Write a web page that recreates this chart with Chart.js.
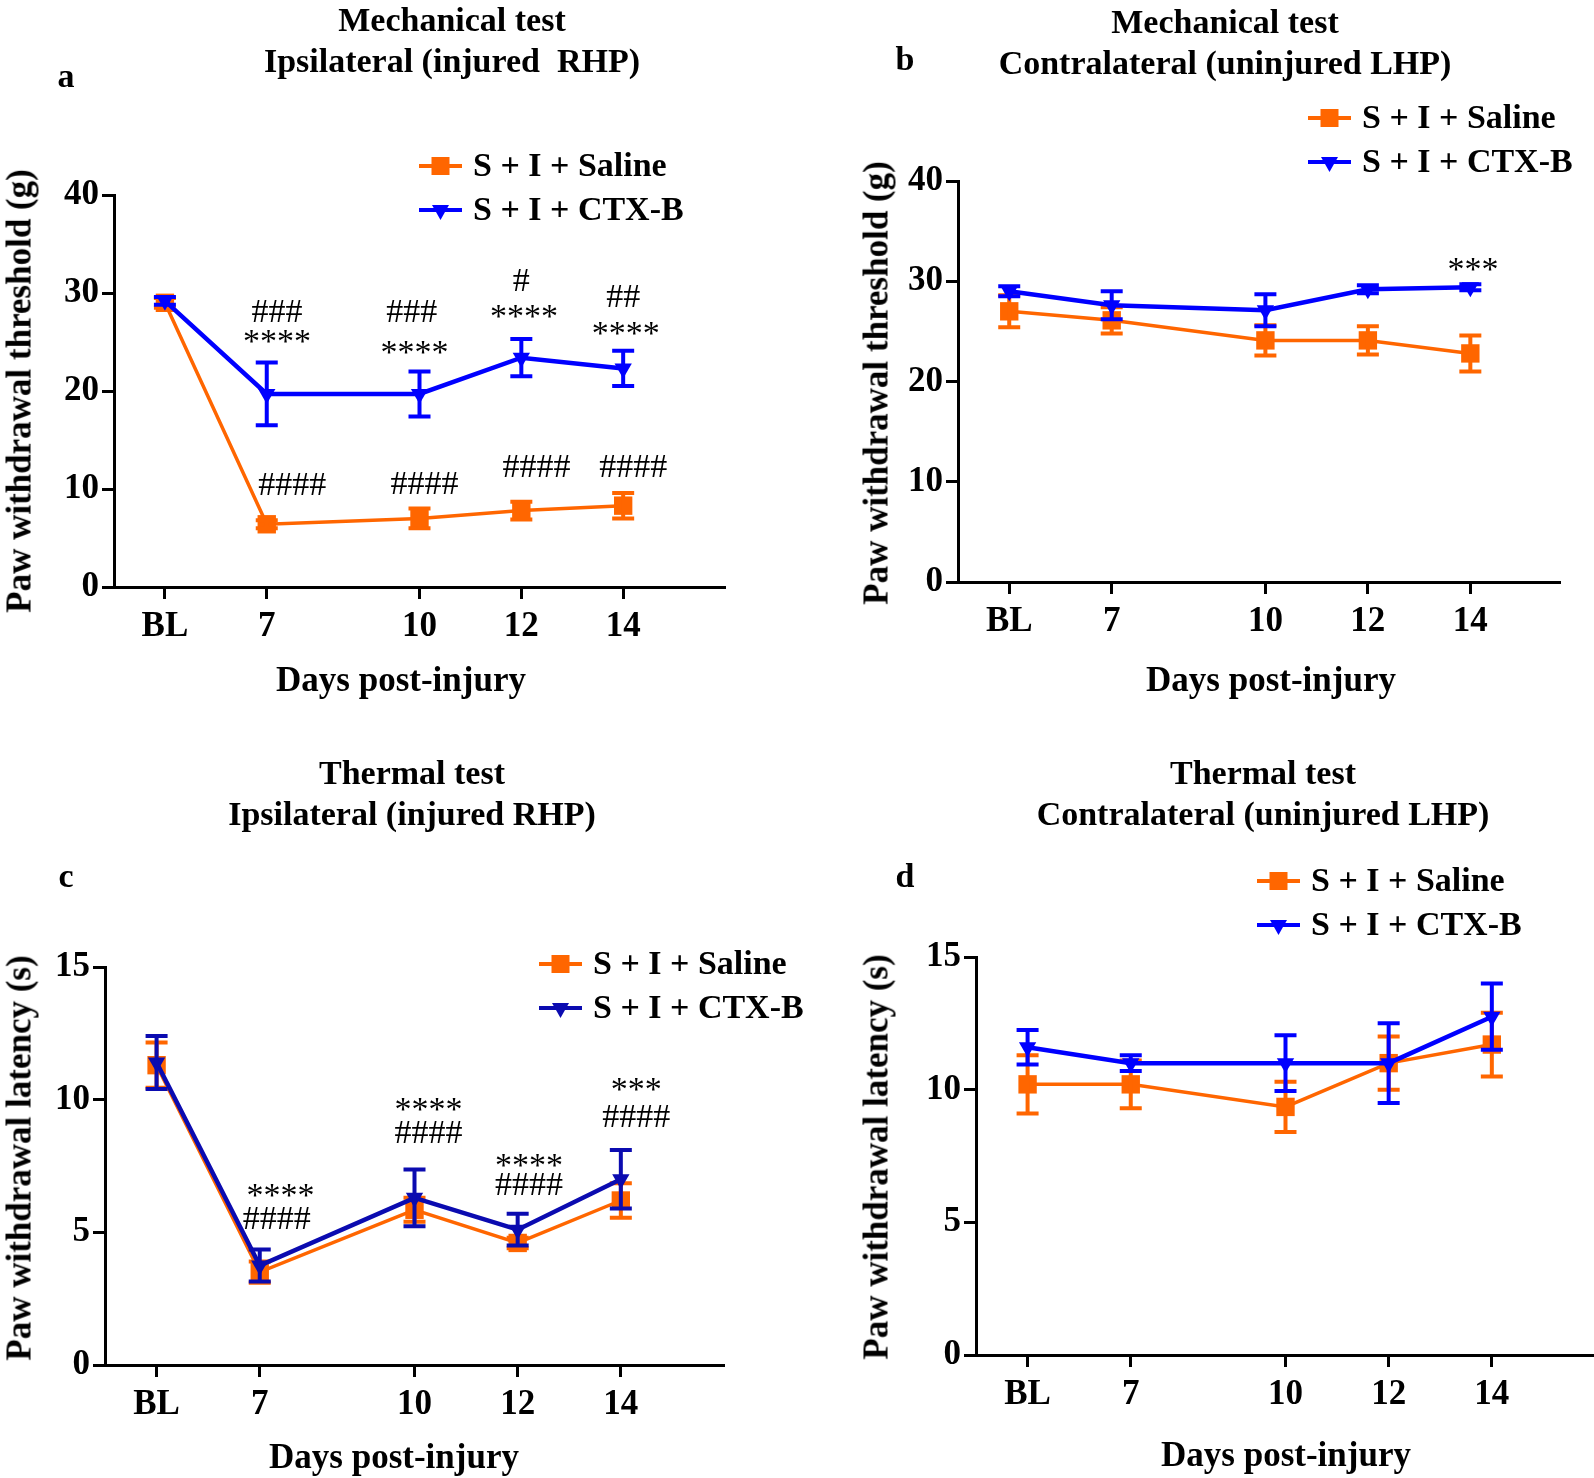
<!DOCTYPE html>
<html>
<head>
<meta charset="utf-8">
<script src="https://cdn.jsdelivr.net/npm/chart.js"></script>
<style>
  html, body { margin: 0; padding: 0; background: #fff; }
  #page { position: relative; width: 1594px; height: 1478px; overflow: hidden;
          font-family: 'Liberation Serif', 'Times New Roman', serif; font-weight: bold; color: #000; }
  #page canvas { position: absolute; }
  .lbl { position: absolute; font-size: 34px; line-height: 1; white-space: pre; transform: translate(-50%, -50%); }
  .ax { font-size: 35px; }
  .rot { transform: translate(-50%, -50%) rotate(-90deg); }
</style>
</head>
<body>
<div id="page">
  <canvas id="chartA" width="797" height="740" style="left:0;top:0"></canvas>
  <canvas id="chartB" width="797" height="740" style="left:797px;top:0"></canvas>
  <canvas id="chartD" width="811" height="738" style="left:797px;top:740px"></canvas>
  <canvas id="chartC" width="830" height="738" style="left:0;top:740px"></canvas>

  <div class="lbl" style="left:452px;top:20px">Mechanical test</div>
  <div class="lbl" style="left:452px;top:61px">Ipsilateral (injured  RHP)</div>
  <div class="lbl" style="left:66px;top:76px">a</div>
  <div class="lbl ax rot" style="left:19px;top:391px">Paw withdrawal threshold (g)</div>
  <div class="lbl ax" style="left:401px;top:679px">Days post-injury</div>

  <div class="lbl" style="left:1225px;top:22px">Mechanical test</div>
  <div class="lbl" style="left:1225px;top:63px">Contralateral (uninjured LHP)</div>
  <div class="lbl" style="left:905px;top:59px">b</div>
  <div class="lbl ax rot" style="left:876px;top:383px">Paw withdrawal threshold (g)</div>
  <div class="lbl ax" style="left:1271px;top:679px">Days post-injury</div>

  <div class="lbl" style="left:412px;top:773px">Thermal test</div>
  <div class="lbl" style="left:412px;top:814px">Ipsilateral (injured RHP)</div>
  <div class="lbl" style="left:66px;top:876px">c</div>
  <div class="lbl ax rot" style="left:19px;top:1158px">Paw withdrawal latency (s)</div>
  <div class="lbl ax" style="left:394px;top:1456px">Days post-injury</div>

  <div class="lbl" style="left:1263px;top:773px">Thermal test</div>
  <div class="lbl" style="left:1263px;top:814px">Contralateral (uninjured LHP)</div>
  <div class="lbl" style="left:905px;top:876px">d</div>
  <div class="lbl ax rot" style="left:876px;top:1157px">Paw withdrawal latency (s)</div>
  <div class="lbl ax" style="left:1286px;top:1454px">Days post-injury</div>
</div>
<script>
// x positions (days) and their tick labels; BL is plotted at day 5
const days = [5, 7, 10, 12, 14];
const dayLabels = ['BL', '7', '10', '12', '14'];
const seriesNames = ['S + I + Saline', 'S + I + CTX-B'];

// a: mechanical, ipsilateral
const salineA = [29.0, 6.4, 7.0, 7.8, 8.3];
const salineAErr = [0.5, 0.4, 1.0, 0.9, 1.3];
const ctxA = [29.2, 19.7, 19.7, 23.4, 22.3];
const ctxAErr = [0.4, 3.2, 2.3, 1.9, 1.8];
const marksA = [
  ['###', 7.2, 28.0], ['****', 7.2, 25.4], ['####', 7.5, 10.3],
  ['###', 9.85, 28.0], ['****', 9.9, 24.3], ['####', 10.1, 10.4],
  ['#', 12.0, 31.1], ['****', 12.05, 28.0], ['####', 12.3, 12.1],
  ['##', 14.0, 29.5], ['****', 14.05, 26.2], ['####', 14.2, 12.1]
];

// b: mechanical, contralateral
const salineB = [27.0, 26.1, 24.1, 24.1, 22.8];
const salineBErr = [1.6, 1.3, 1.5, 1.4, 1.8];
const ctxB = [29.0, 27.6, 27.1, 29.2, 29.4];
const ctxBErr = [0.5, 1.4, 1.6, 0.4, 0.3];
const marksB = [['***', 14.05, 31.5]];

// c: thermal, ipsilateral
const salineC = [11.3, 3.5, 5.85, 4.6, 6.2];
const salineCErr = [0.85, 0.4, 0.45, 0.2, 0.65];
const ctxC = [11.4, 3.75, 6.3, 5.1, 7.0];
const ctxCErr = [1.0, 0.6, 1.07, 0.6, 1.1];
const marksC = [
  ['****', 7.4, 6.5], ['####', 7.33, 5.45],
  ['****', 10.27, 9.75], ['####', 10.27, 8.7],
  ['****', 12.22, 7.65], ['####', 12.22, 6.75],
  ['***', 14.3, 10.5], ['####', 14.3, 9.3]
];

// d: thermal, contralateral
const salineD = [10.2, 10.2, 9.35, 11.0, 11.7];
const salineDErr = [1.1, 0.9, 0.95, 1.0, 1.2];
const ctxD = [11.6, 11.0, 11.0, 11.0, 12.75];
const ctxDErr = [0.65, 0.3, 1.05, 1.5, 1.25];
const marksD = [];

const ORANGE = '#ff6600';
const BLUE = '#0000ff';
const NAVY = '#0b0bb0';
const serif = "'Liberation Serif', 'Times New Roman', serif";

function drawMarker(ctx, style, x, y, color) {
  ctx.fillStyle = color;
  if (style === 'rect') {
    ctx.fillRect(x - 9, y - 9, 18, 18);
  } else {
    ctx.beginPath();
    ctx.moveTo(x - 8.5, y - 5);
    ctx.lineTo(x + 8.5, y - 5);
    ctx.lineTo(x, y + 10);
    ctx.closePath();
    ctx.fill();
  }
}

// vertical SEM bars, drawn right after each dataset
const errorBars = {
  id: 'errorBars',
  afterDatasetDraw(chart, args) {
    const ds = chart.data.datasets[args.index];
    if (!ds.errors) return;
    const ctx = chart.ctx, ys = chart.scales.y;
    ctx.save();
    ctx.strokeStyle = ds.borderColor;
    ctx.lineWidth = 4;
    args.meta.data.forEach((pt, i) => {
      const v = ds.data[i].y, e = ds.errors[i];
      const top = ys.getPixelForValue(v + e), bot = ys.getPixelForValue(v - e);
      ctx.beginPath();
      ctx.moveTo(pt.x, top); ctx.lineTo(pt.x, bot);
      ctx.moveTo(pt.x - 11, top); ctx.lineTo(pt.x + 11, top);
      ctx.moveTo(pt.x - 11, bot); ctx.lineTo(pt.x + 11, bot);
      ctx.stroke();
    });
    ctx.restore();
  }
};

// significance marks (#, *) placed in data space
const sigMarks = {
  id: 'sigMarks',
  afterDatasetsDraw(chart, args, opts) {
    const ctx = chart.ctx;
    ctx.save();
    ctx.font = '34px ' + serif;
    ctx.fillStyle = '#000';
    ctx.textAlign = 'center';
    ctx.textBaseline = 'middle';
    (opts.marks || []).forEach(([txt, x, y]) => {
      const px = chart.scales.x.getPixelForValue(x);
      let py = chart.scales.y.getPixelForValue(y);
      if (txt.includes('*')) py += 5;
      ctx.fillText(txt, px, py);
    });
    ctx.restore();
  }
};

// legend: short line with marker, then label
const lineLegend = {
  id: 'lineLegend',
  afterDraw(chart, args, opts) {
    const ctx = chart.ctx;
    ctx.save();
    ctx.font = 'bold 34px ' + serif;
    ctx.textBaseline = 'middle';
    chart.data.datasets.forEach((ds, i) => {
      const y = opts.y + i * opts.gap;
      ctx.strokeStyle = ds.borderColor;
      ctx.lineWidth = 4;
      ctx.beginPath();
      ctx.moveTo(opts.x, y);
      ctx.lineTo(opts.x + 43, y);
      ctx.stroke();
      drawMarker(ctx, ds.pointStyle, opts.x + 21.5, y, ds.borderColor);
      ctx.fillStyle = '#000';
      ctx.fillText(ds.label, opts.x + 54, y + 1);
    });
    ctx.restore();
  }
};

function axisStyle() {
  return {
    grid: { drawOnChartArea: false, drawTicks: true, tickLength: 12, tickWidth: 3, tickColor: '#000' },
    border: { display: true, color: '#000', width: 3 }
  };
}

function makePanel(id, p) {
  const tickFont = { family: serif, size: 35, weight: 'bold' };
  new Chart(document.getElementById(id), {
    type: 'line',
    data: {
      datasets: [
        {
          label: seriesNames[0],
          data: days.map((d, i) => ({ x: d, y: p.saline[i] })),
          errors: p.salineErr,
          borderColor: ORANGE, backgroundColor: ORANGE,
          borderWidth: 3.5, pointStyle: 'rect', pointRadius: 13,
          pointBorderWidth: 0, tension: 0, order: 1
        },
        {
          label: seriesNames[1],
          data: days.map((d, i) => ({ x: d, y: p.ctx[i] })),
          errors: p.ctxErr,
          borderColor: p.blue, backgroundColor: p.blue,
          borderWidth: 4.5, pointStyle: 'triangle', rotation: 180, pointRadius: 10,
          pointBorderWidth: 0, tension: 0, order: 0
        }
      ]
    },
    options: {
      responsive: false,
      animation: false,
      layout: { padding: { left: 0, top: p.top, right: p.padR, bottom: 0 } },
      plugins: {
        legend: { display: false },
        tooltip: { enabled: false },
        lineLegend: p.legend,
        sigMarks: { marks: p.marks }
      },
      scales: {
        x: Object.assign(axisStyle(), {
          type: 'linear', min: 4, max: p.xMax,
          afterBuildTicks: s => { s.ticks = days.map(v => ({ value: v })); },
          afterFit: s => { s.height = p.xH; },
          ticks: {
            callback: v => dayLabels[days.indexOf(v)],
            font: tickFont, color: '#000', padding: 7, autoSkip: false, maxRotation: 0
          }
        }),
        y: Object.assign(axisStyle(), {
          min: 0, max: p.yMax,
          afterFit: s => { s.width = p.yW; },
          ticks: { stepSize: p.yStep, font: tickFont, color: '#000', padding: 3 }
        })
      }
    },
    plugins: [errorBars, sigMarks, lineLegend]
  });
}

makePanel('chartA', {
  saline: salineA, salineErr: salineAErr, ctx: ctxA, ctxErr: ctxAErr, marks: marksA,
  blue: BLUE, yMax: 40, yStep: 10, xMax: 16,
  top: 195, padR: 72, xH: 153, yW: 114,
  legend: { x: 419, y: 166, gap: 44 }
});
makePanel('chartB', {
  saline: salineB, salineErr: salineBErr, ctx: ctxB, ctxErr: ctxBErr, marks: marksB,
  blue: BLUE, yMax: 40, yStep: 10, xMax: 15.75,
  top: 181, padR: 34, xH: 158, yW: 161,
  legend: { x: 511, y: 118, gap: 44 }
});
makePanel('chartC', {
  saline: salineC, salineErr: salineCErr, ctx: ctxC, ctxErr: ctxCErr, marks: marksC,
  blue: NAVY, yMax: 15, yStep: 5, xMax: 16,
  top: 227, padR: 106, xH: 113, yW: 105,
  legend: { x: 539, y: 224, gap: 44 }
});
makePanel('chartD', {
  saline: salineD, salineErr: salineDErr, ctx: ctxD, ctxErr: ctxDErr, marks: marksD,
  blue: BLUE, yMax: 15, yStep: 5, xMax: 16,
  top: 217, padR: 0, xH: 123, yW: 179,
  legend: { x: 460, y: 141, gap: 44 }
});
</script>
</body>
</html>
